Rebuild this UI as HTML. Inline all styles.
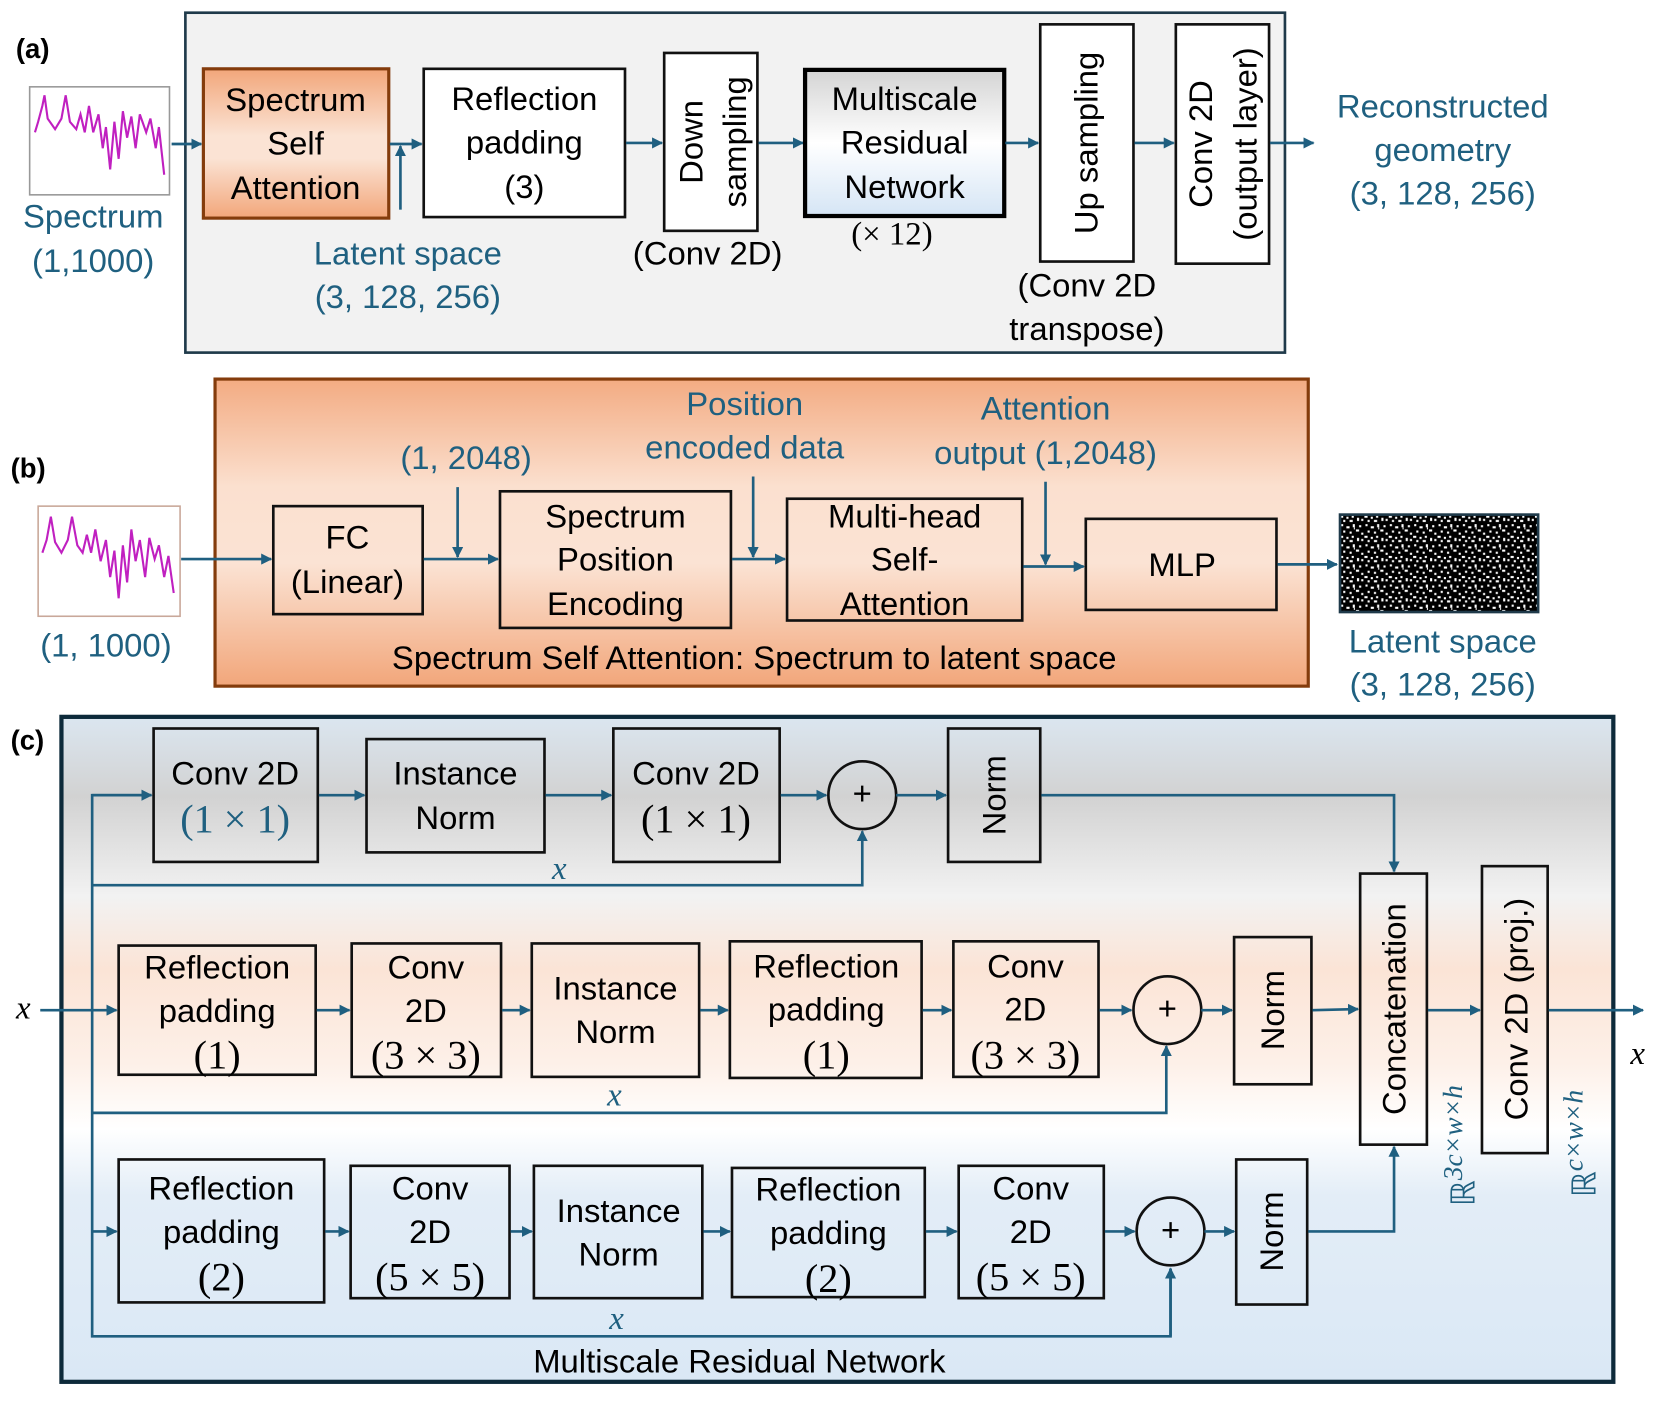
<!DOCTYPE html>
<html><head><meta charset="utf-8"><style>html,body{margin:0;padding:0;background:#fff;overflow:hidden}svg{display:block}</style></head><body>
<svg width="1661" height="1403" viewBox="0 0 1568 1325" preserveAspectRatio="none" xmlns="http://www.w3.org/2000/svg" font-family="Liberation Sans, sans-serif">
<defs>
<marker id="ar" viewBox="0 0 10 10" refX="9" refY="5" markerWidth="4.2" markerHeight="4.2" orient="auto"><path d="M0,0L10,5L0,10z" fill="#1f5f80"/></marker>
<linearGradient id="gssa" x1="0" y1="0" x2="0" y2="1"><stop offset="0" stop-color="#f2a67a"/><stop offset="0.45" stop-color="#fbe3d4"/><stop offset="0.6" stop-color="#fbe3d4"/><stop offset="1" stop-color="#f2a67a"/></linearGradient>
<linearGradient id="gb" x1="0" y1="0" x2="0" y2="1"><stop offset="0" stop-color="#f3ab82"/><stop offset="0.35" stop-color="#fbe0cf"/><stop offset="0.6" stop-color="#fbe3d4"/><stop offset="1" stop-color="#f2a67a"/></linearGradient>
<linearGradient id="gm" x1="0" y1="0" x2="0" y2="1"><stop offset="0" stop-color="#d4d4d4"/><stop offset="0.5" stop-color="#ffffff"/><stop offset="1" stop-color="#d5e5f5"/></linearGradient>
<linearGradient id="gc" x1="0" y1="0" x2="0" y2="1"><stop offset="0" stop-color="#dbe6f0"/><stop offset="0.12" stop-color="#d2d2d2"/><stop offset="0.27" stop-color="#f2f2f2"/><stop offset="0.38" stop-color="#fbe4d6"/><stop offset="0.52" stop-color="#fdf0e8"/><stop offset="0.62" stop-color="#ffffff"/><stop offset="0.72" stop-color="#e3edf7"/><stop offset="1" stop-color="#dae8f5"/></linearGradient>
<pattern id="np" width="23" height="19" patternUnits="userSpaceOnUse">
<rect width="23" height="19" fill="#000"/>
<g fill="#fff">
<rect x="1" y="1" width="2" height="2"/><rect x="6" y="3" width="3" height="2"/><rect x="12" y="1" width="2" height="3"/><rect x="18" y="2" width="2" height="2"/>
<rect x="3" y="7" width="2" height="2"/><rect x="9" y="8" width="2" height="2"/><rect x="15" y="6" width="3" height="2"/><rect x="20" y="9" width="2" height="2"/>
<rect x="0" y="12" width="3" height="2"/><rect x="6" y="13" width="2" height="2"/><rect x="11" y="12" width="2" height="2"/><rect x="16" y="14" width="2" height="3"/>
<rect x="3" y="16" width="2" height="2"/><rect x="9" y="16" width="3" height="2"/><rect x="20" y="15" width="2" height="2"/><rect x="13" y="4" width="1" height="2"/>
</g>
</pattern>
</defs>
<style>
.t{font-size:31px;fill:#000;text-anchor:middle}
.b{font-size:31px;fill:#1f6080;text-anchor:middle}
.s{font-family:"Liberation Serif",serif}
.d{font-size:38px}
.ln{stroke:#1f5f80;stroke-width:2.5;fill:none}
.bx{stroke:#111;stroke-width:2.5;fill:none}
</style>

<!-- Panel a -->
<text x="15" y="55" font-size="26" font-weight="bold">(a)</text>
<rect x="175" y="12" width="1038" height="321" fill="#f2f2f2" stroke="#1f3a4a" stroke-width="2.5"/>
<rect x="28" y="82" width="132" height="102" fill="#fff" stroke="#999" stroke-width="1.5"/>
<polyline points="33,125 36,115 40,100 42,90 45,112 52,122 58,112 62,90 66,115 72,122 76,108 80,125 84,100 88,125 93,108 97,140 100,120 104,160 108,115 112,150 116,105 120,130 124,110 128,140 132,108 138,125 142,112 147,140 150,120 155,165" fill="none" stroke="#c020c0" stroke-width="2"/>
<text class="b" x="88" y="215">Spectrum</text>
<text class="b" x="88" y="257">(1,1000)</text>
<line class="ln" x1="162" y1="136" x2="190" y2="136" marker-end="url(#ar)"/>
<rect x="192" y="65" width="175" height="141" fill="url(#gssa)" stroke="#843c0c" stroke-width="3"/>
<text class="t" x="279" y="105">Spectrum</text><text class="t" x="279" y="146">Self</text><text class="t" x="279" y="188">Attention</text>
<line class="ln" x1="368" y1="136" x2="398" y2="136" marker-end="url(#ar)"/>
<line class="ln" x1="378" y1="198" x2="378" y2="138" marker-end="url(#ar)"/>
<rect x="400" y="65" width="190" height="140" fill="#fff" stroke="#111" stroke-width="2.5"/>
<text class="t" x="495" y="104">Reflection</text><text class="t" x="495" y="145">padding</text><text class="t" x="495" y="187">(3)</text>
<text class="b" x="385" y="250">Latent space</text><text class="b" x="385" y="291">(3, 128, 256)</text>
<line class="ln" x1="591" y1="135" x2="625" y2="135" marker-end="url(#ar)"/>
<rect x="627" y="50" width="88" height="168" fill="#fff" stroke="#111" stroke-width="2.5"/>
<text class="t" transform="translate(663,134) rotate(-90)">Down</text>
<text class="t" transform="translate(704,134) rotate(-90)">sampling</text>
<text class="t" x="668" y="250">(Conv 2D)</text>
<line class="ln" x1="716" y1="135" x2="758" y2="135" marker-end="url(#ar)"/>
<rect x="760" y="66" width="188" height="138" fill="url(#gm)" stroke="#000" stroke-width="4"/>
<text class="t" x="854" y="104">Multiscale</text><text class="t" x="854" y="145">Residual</text><text class="t" x="854" y="187">Network</text>
<text class="t s" x="842" y="231" font-size="28">(× 12)</text>
<line class="ln" x1="949" y1="135" x2="980" y2="135" marker-end="url(#ar)"/>
<rect x="982" y="23" width="88" height="224" fill="#fff" stroke="#111" stroke-width="2.5"/>
<text class="t" transform="translate(1036,135) rotate(-90)">Up sampling</text>
<text class="t" x="1026" y="280">(Conv 2D</text><text class="t" x="1026" y="321">transpose)</text>
<line class="ln" x1="1071" y1="135" x2="1108" y2="135" marker-end="url(#ar)"/>
<rect x="1110" y="23" width="88" height="226" fill="#fff" stroke="#111" stroke-width="2.5"/>
<text class="t" transform="translate(1144,136) rotate(-90)">Conv 2D</text>
<text class="t" transform="translate(1186,136) rotate(-90)">(output layer)</text>
<line class="ln" x1="1199" y1="135" x2="1240" y2="135" marker-end="url(#ar)"/>
<text class="b" x="1362" y="111">Reconstructed</text><text class="b" x="1362" y="152">geometry</text><text class="b" x="1362" y="193">(3, 128, 256)</text>

<!-- Panel b -->
<text x="10" y="451" font-size="26" font-weight="bold">(b)</text>
<rect x="203" y="358" width="1032" height="290" fill="url(#gb)" stroke="#843c0c" stroke-width="3"/>
<rect x="36" y="478" width="134" height="104" fill="#fff" stroke="#c9a89a" stroke-width="1.5"/>
<polyline points="40,522 44,510 48,488 52,512 58,522 64,510 68,488 73,515 78,522 82,505 86,522 90,500 95,530 100,510 104,545 108,520 112,565 116,515 120,550 124,500 128,530 132,510 137,545 141,508 146,528 150,515 155,545 159,525 164,560" fill="none" stroke="#c020c0" stroke-width="2"/>
<text class="b" x="100" y="620">(1, 1000)</text>
<line class="ln" x1="171" y1="528" x2="256" y2="528" marker-end="url(#ar)"/>
<rect x="258" y="478" width="141" height="102" class="bx" stroke="#333"/>
<text class="t" x="328" y="518">FC</text><text class="t" x="328" y="560">(Linear)</text>
<line class="ln" x1="400" y1="528" x2="470" y2="528" marker-end="url(#ar)"/>
<line class="ln" x1="432" y1="460" x2="432" y2="526" marker-end="url(#ar)"/>
<text class="b" x="440" y="443">(1, 2048)</text>
<rect x="472" y="464" width="218" height="129" class="bx" stroke="#333"/>
<text class="t" x="581" y="498">Spectrum</text><text class="t" x="581" y="539">Position</text><text class="t" x="581" y="581">Encoding</text>
<text class="b" x="703" y="392">Position</text><text class="b" x="703" y="433">encoded data</text>
<line class="ln" x1="691" y1="528" x2="741" y2="528" marker-end="url(#ar)"/>
<line class="ln" x1="711" y1="450" x2="711" y2="526" marker-end="url(#ar)"/>
<rect x="743" y="471" width="222" height="115" class="bx" stroke="#333"/>
<text class="t" x="854" y="498">Multi-head</text><text class="t" x="854" y="539">Self-</text><text class="t" x="854" y="581">Attention</text>
<text class="b" x="987" y="396">Attention</text><text class="b" x="987" y="438">output (1,2048)</text>
<line class="ln" x1="966" y1="535" x2="1023" y2="535" marker-end="url(#ar)"/>
<line class="ln" x1="987" y1="455" x2="987" y2="533" marker-end="url(#ar)"/>
<rect x="1025" y="490" width="180" height="86" class="bx" stroke="#333"/>
<text class="t" x="1116" y="544">MLP</text>
<line class="ln" x1="1206" y1="533" x2="1262" y2="533" marker-end="url(#ar)"/>
<rect x="1265" y="486" width="187" height="92" fill="url(#np)" stroke="#1f3a4a" stroke-width="2.5"/>
<text class="b" x="1362" y="616">Latent space</text><text class="b" x="1362" y="657">(3, 128, 256)</text>
<text class="t" x="712" y="632">Spectrum Self Attention: Spectrum to latent space</text>

<!-- Panel c -->
<text x="10" y="708" font-size="26" font-weight="bold">(c)</text>
<rect x="58" y="677" width="1465" height="628" fill="url(#gc)" stroke="#0d2a3a" stroke-width="4"/>
<text class="t s" x="22" y="962" font-style="italic" font-size="34">x</text>
<line class="ln" x1="38" y1="954" x2="110" y2="954" marker-end="url(#ar)"/>
<polyline class="ln" points="143,751 87,751 87,1262 1105,1262 1105,1198"/>
<line class="ln" x1="87" y1="751" x2="143" y2="751" marker-end="url(#ar)"/>
<polyline class="ln" points="87,836 814,836 814,785" marker-end="url(#ar)"/>
<polyline class="ln" points="87,1051 1101,1051 1101,988" marker-end="url(#ar)"/>
<line class="ln" x1="1105" y1="1262" x2="1105" y2="1198" marker-end="url(#ar)"/>
<line class="ln" x1="87" y1="1163" x2="110" y2="1163" marker-end="url(#ar)"/>
<text class="b s" x="528" y="830" font-style="italic" font-size="34">x</text>
<text class="b s" x="580" y="1044" font-style="italic" font-size="34">x</text>
<text class="b s" x="582" y="1255" font-style="italic" font-size="34">x</text>

<!-- row1 -->
<rect class="bx" x="145" y="688" width="155" height="126"/>
<text class="t" x="222" y="741">Conv 2D</text><text class="b s d" x="222" y="786">(1 × 1)</text>
<line class="ln" x1="301" y1="751" x2="344" y2="751" marker-end="url(#ar)"/>
<rect class="bx" x="346" y="698" width="168" height="107"/>
<text class="t" x="430" y="741">Instance</text><text class="t" x="430" y="783">Norm</text>
<line class="ln" x1="515" y1="751" x2="577" y2="751" marker-end="url(#ar)"/>
<rect class="bx" x="579" y="688" width="157" height="126"/>
<text class="t" x="657" y="741">Conv 2D</text><text class="t s d" x="657" y="786">(1 × 1)</text>
<line class="ln" x1="737" y1="751" x2="780" y2="751" marker-end="url(#ar)"/>
<circle cx="814" cy="751" r="32" fill="none" stroke="#111" stroke-width="2.5"/><text class="t" x="814" y="760" font-size="26">+</text>
<line class="ln" x1="846" y1="751" x2="893" y2="751" marker-end="url(#ar)"/>
<rect class="bx" x="895" y="688" width="87" height="126"/>
<text class="t" transform="translate(949,751) rotate(-90)">Norm</text>
<polyline class="ln" points="983,751 1316,751 1316,823" marker-end="url(#ar)"/>

<!-- row2 -->
<rect class="bx" x="112" y="893" width="186" height="122"/>
<text class="t" x="205" y="924">Reflection</text><text class="t" x="205" y="965">padding</text><text class="t s d" x="205" y="1009">(1)</text>
<line class="ln" x1="299" y1="954" x2="330" y2="954" marker-end="url(#ar)"/>
<rect class="bx" x="332" y="891" width="141" height="126"/>
<text class="t" x="402" y="924">Conv</text><text class="t" x="402" y="965">2D</text><text class="t s d" x="402" y="1009">(3 × 3)</text>
<line class="ln" x1="474" y1="954" x2="500" y2="954" marker-end="url(#ar)"/>
<rect class="bx" x="502" y="891" width="158" height="126"/>
<text class="t" x="581" y="944">Instance</text><text class="t" x="581" y="985">Norm</text>
<line class="ln" x1="661" y1="954" x2="687" y2="954" marker-end="url(#ar)"/>
<rect class="bx" x="689" y="889" width="181" height="129"/>
<text class="t" x="780" y="923">Reflection</text><text class="t" x="780" y="964">padding</text><text class="t s d" x="780" y="1009">(1)</text>
<line class="ln" x1="871" y1="954" x2="898" y2="954" marker-end="url(#ar)"/>
<rect class="bx" x="900" y="889" width="137" height="128"/>
<text class="t" x="968" y="923">Conv</text><text class="t" x="968" y="964">2D</text><text class="t s d" x="968" y="1009">(3 × 3)</text>
<line class="ln" x1="1038" y1="954" x2="1068" y2="954" marker-end="url(#ar)"/>
<circle cx="1102" cy="954" r="32" fill="none" stroke="#111" stroke-width="2.5"/><text class="t" x="1102" y="963" font-size="26">+</text>
<line class="ln" x1="1134" y1="954" x2="1163" y2="954" marker-end="url(#ar)"/>
<rect class="bx" x="1165" y="885" width="73" height="139"/>
<text class="t" transform="translate(1212,954) rotate(-90)">Norm</text>
<line class="ln" x1="1239" y1="954" x2="1282" y2="953" marker-end="url(#ar)"/>

<!-- row3 -->
<rect class="bx" x="112" y="1095" width="194" height="135"/>
<text class="t" x="209" y="1133">Reflection</text><text class="t" x="209" y="1174">padding</text><text class="t s d" x="209" y="1219">(2)</text>
<line class="ln" x1="307" y1="1163" x2="329" y2="1163" marker-end="url(#ar)"/>
<rect class="bx" x="331" y="1101" width="150" height="125"/>
<text class="t" x="406" y="1133">Conv</text><text class="t" x="406" y="1174">2D</text><text class="t s d" x="406" y="1219">(5 × 5)</text>
<line class="ln" x1="482" y1="1163" x2="502" y2="1163" marker-end="url(#ar)"/>
<rect class="bx" x="504" y="1101" width="159" height="125"/>
<text class="t" x="584" y="1154">Instance</text><text class="t" x="584" y="1195">Norm</text>
<line class="ln" x1="664" y1="1163" x2="689" y2="1163" marker-end="url(#ar)"/>
<rect class="bx" x="691" y="1103" width="182" height="122"/>
<text class="t" x="782" y="1134">Reflection</text><text class="t" x="782" y="1175">padding</text><text class="t s d" x="782" y="1220">(2)</text>
<line class="ln" x1="874" y1="1163" x2="903" y2="1163" marker-end="url(#ar)"/>
<rect class="bx" x="905" y="1101" width="137" height="125"/>
<text class="t" x="973" y="1133">Conv</text><text class="t" x="973" y="1174">2D</text><text class="t s d" x="973" y="1219">(5 × 5)</text>
<line class="ln" x1="1043" y1="1163" x2="1071" y2="1163" marker-end="url(#ar)"/>
<circle cx="1105" cy="1163" r="32" fill="none" stroke="#111" stroke-width="2.5"/><text class="t" x="1105" y="1172" font-size="26">+</text>
<line class="ln" x1="1137" y1="1163" x2="1165" y2="1163" marker-end="url(#ar)"/>
<rect class="bx" x="1167" y="1095" width="67" height="137"/>
<text class="t" transform="translate(1211,1163) rotate(-90)">Norm</text>
<polyline class="ln" points="1235,1163 1316,1163 1316,1083" marker-end="url(#ar)"/>

<!-- right -->
<rect class="bx" x="1284" y="825" width="63" height="256"/>
<text class="t" transform="translate(1327,953) rotate(-90)" font-size="32">Concatenation</text>
<line class="ln" x1="1348" y1="954" x2="1397" y2="954" marker-end="url(#ar)"/>
<rect class="bx" x="1399" y="818" width="62" height="271"/>
<text class="t" transform="translate(1442,953) rotate(-90)" font-size="32">Conv 2D (proj.)</text>
<line class="ln" x1="1462" y1="954" x2="1551" y2="954" marker-end="url(#ar)"/>
<text class="t s" x="1546" y="1005" font-style="italic" font-size="34">x</text>
<text class="b s" transform="translate(1392,1082) rotate(-90)" font-size="32" text-anchor="middle"><tspan>ℝ</tspan><tspan font-style="italic" font-size="26" dy="-12">3c×w×h</tspan></text>
<text class="b s" transform="translate(1506,1080) rotate(-90)" font-size="32" text-anchor="middle"><tspan>ℝ</tspan><tspan font-style="italic" font-size="26" dy="-12">c×w×h</tspan></text>
<text class="t" x="698" y="1296">Multiscale Residual Network</text>
</svg>
</body></html>
